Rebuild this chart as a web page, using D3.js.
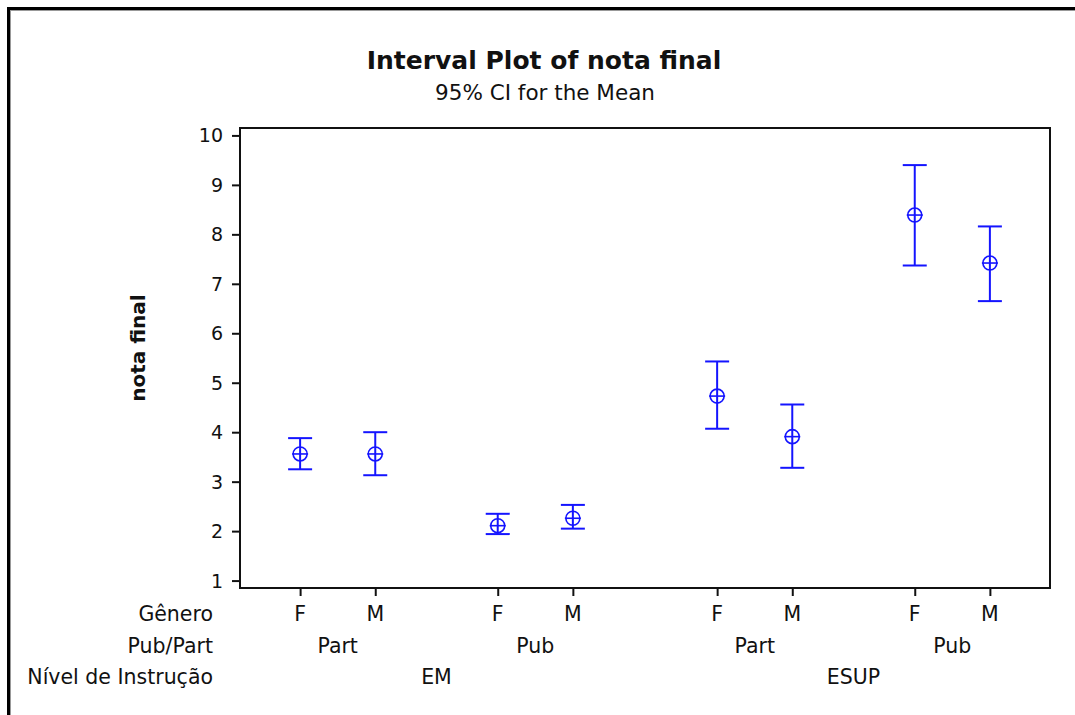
<!DOCTYPE html>
<html>
<head>
<meta charset="utf-8">
<script src="https://cdn.jsdelivr.net/npm/d3@7"></script>
<style>
  html, body { margin: 0; padding: 0; background: #fff; }
  svg { display: block; font-family: "DejaVu Sans", Verdana, sans-serif; }
</style>
</head>
<body>
<svg id="chart" width="1075" height="715"></svg>
<script>
// ---- data ----
const nivelLevels = ["EM", "ESUP"];
const pubPartLevels = ["Part", "Pub"];
const generoLevels = ["F", "M"];
const rowLabels = ["Gênero", "Pub/Part", "Nível de Instrução"];

// cells in order: EM-Part-F, EM-Part-M, EM-Pub-F, EM-Pub-M, ESUP-Part-F, ESUP-Part-M, ESUP-Pub-F, ESUP-Pub-M
const cellNivel   = ["EM", "EM", "EM", "EM", "ESUP", "ESUP", "ESUP", "ESUP"];
const cellPubPart = ["Part", "Part", "Pub", "Pub", "Part", "Part", "Pub", "Pub"];
const cellGenero  = ["F", "M", "F", "M", "F", "M", "F", "M"];
const means  = [3.56, 3.56, 2.11, 2.26, 4.73, 3.91, 8.39, 7.42];
const lowers = [3.25, 3.13, 1.94, 2.05, 4.07, 3.28, 7.37, 6.65];
const uppers = [3.88, 4.00, 2.35, 2.53, 5.43, 4.56, 9.40, 8.16];
const yTicks = [1, 2, 3, 4, 5, 6, 7, 8, 9, 10];

const titleText = "Interval Plot of nota final";
const subtitleText = "95% CI for the Mean";
const yLabelText = "nota final";

// ---- layout ----
const svg = d3.select("#chart");
const plot = { left: 240, right: 1050, top: 128, bottom: 588 };
const subGap = 0.63, groupGap = 0.29;
const blue = "#1414ff";
const ink = "#111";

const cells = means.map((m, i) => ({
  nivel: cellNivel[i], pub: cellPubPart[i], gen: cellGenero[i],
  mean: m, lo: lowers[i], hi: uppers[i]
}));
// position index with Minitab-like gaps between groups
cells.forEach((c, i) => {
  const g = nivelLevels.indexOf(c.nivel);
  const s = g * pubPartLevels.length + pubPartLevels.indexOf(c.pub);
  c.pos = i + s * subGap + g * groupGap;
});
const maxPos = d3.max(cells, c => c.pos);
const pad = 0.8;

const x = d3.scaleLinear().domain([-pad, maxPos + pad]).range([plot.left, plot.right]);
const y = d3.scaleLinear().domain([0.85, 10.15]).range([plot.bottom, plot.top]);

// outer frame (top and left edges)
svg.append("line").attr("x1", 9).attr("x2", 1075).attr("y1", 8.5).attr("y2", 8.5)
  .attr("stroke", "#000").attr("stroke-width", 3);
svg.append("line").attr("x1", 8.5).attr("x2", 8.5).attr("y1", 7).attr("y2", 715)
  .attr("stroke", "#000").attr("stroke-width", 3);
svg.append("line").attr("x1", 10).attr("x2", 1075).attr("y1", 10.5).attr("y2", 10.5)
  .attr("stroke", "#999").attr("stroke-width", 1);
svg.append("line").attr("x1", 10.5).attr("x2", 10.5).attr("y1", 10).attr("y2", 715)
  .attr("stroke", "#999").attr("stroke-width", 1);

// titles
svg.append("text").attr("x", 544).attr("y", 69).attr("text-anchor", "middle")
  .attr("font-size", 25).attr("font-weight", "bold").attr("fill", ink).text(titleText);
svg.append("text").attr("x", 545).attr("y", 100).attr("text-anchor", "middle")
  .attr("font-size", 21.5).attr("fill", ink).text(subtitleText);

// y axis
const yAxis = d3.axisLeft(y).tickValues(yTicks).tickSize(8).tickPadding(9).tickFormat(d3.format("d"));
const gy = svg.append("g").attr("transform", `translate(${plot.left},0)`).call(yAxis);
gy.select(".domain").remove();
gy.selectAll(".tick line").attr("stroke", ink).attr("stroke-width", 2);
gy.selectAll(".tick text").attr("font-size", 19).attr("fill", ink)
  .attr("font-family", "DejaVu Sans, sans-serif").attr("dy", "0.34em");

// x axis ticks
const xAxis = d3.axisBottom(x).tickValues(cells.map(c => c.pos)).tickSize(8).tickFormat("");
const gx = svg.append("g").attr("transform", `translate(0,${plot.bottom})`).call(xAxis);
gx.select(".domain").remove();
gx.selectAll(".tick line").attr("stroke", ink).attr("stroke-width", 2);

// plot frame
svg.append("rect").attr("x", plot.left).attr("y", plot.top)
  .attr("width", plot.right - plot.left).attr("height", plot.bottom - plot.top)
  .attr("fill", "none").attr("stroke", ink).attr("stroke-width", 2);

// y label
svg.append("text").attr("transform", `translate(145,348) rotate(-90)`)
  .attr("text-anchor", "middle").attr("font-size", 20).attr("font-weight", "bold")
  .attr("fill", ink).text(yLabelText);

// category label rows
const rowY = [621, 653, 684];
const labFont = 20.5;
svg.selectAll("text.rowlab").data(rowLabels).join("text").attr("class", "rowlab")
  .attr("x", 213).attr("y", (d, i) => rowY[i]).attr("text-anchor", "end")
  .attr("font-size", labFont).attr("fill", ink).text(d => d);

svg.selectAll("text.gen").data(cells).join("text").attr("class", "gen")
  .attr("x", d => x(d.pos)).attr("y", rowY[0]).attr("text-anchor", "middle")
  .attr("font-size", labFont).attr("fill", ink).text(d => d.gen);

const subGroups = d3.groups(cells, c => c.nivel + "|" + c.pub).map(([k, v]) => ({
  label: v[0].pub, cx: d3.mean(v, c => c.pos)
}));
svg.selectAll("text.pub").data(subGroups).join("text").attr("class", "pub")
  .attr("x", d => x(d.cx)).attr("y", rowY[1]).attr("text-anchor", "middle")
  .attr("font-size", labFont).attr("fill", ink).text(d => d.label);

const groups = d3.groups(cells, c => c.nivel).map(([k, v]) => ({
  label: k, cx: d3.mean(v, c => c.pos)
}));
svg.selectAll("text.niv").data(groups).join("text").attr("class", "niv")
  .attr("x", d => x(d.cx)).attr("y", rowY[2]).attr("text-anchor", "middle")
  .attr("font-size", labFont).attr("fill", ink).text(d => d.label);

// interval bars
const capHalf = 12, r = 7;
const marks = svg.append("g").attr("stroke", blue).attr("stroke-width", 2).attr("fill", "none");
const g = marks.selectAll("g").data(cells).join("g");
g.append("line").attr("x1", d => x(d.pos)).attr("x2", d => x(d.pos))
  .attr("y1", d => y(d.hi)).attr("y2", d => y(d.lo));
g.append("line").attr("x1", d => x(d.pos) - capHalf).attr("x2", d => x(d.pos) + capHalf)
  .attr("y1", d => y(d.hi)).attr("y2", d => y(d.hi));
g.append("line").attr("x1", d => x(d.pos) - capHalf).attr("x2", d => x(d.pos) + capHalf)
  .attr("y1", d => y(d.lo)).attr("y2", d => y(d.lo));
g.append("circle").attr("cx", d => x(d.pos)).attr("cy", d => y(d.mean)).attr("r", r)
  .attr("stroke-width", 1.6);
g.append("line").attr("x1", d => x(d.pos) - r - 1).attr("x2", d => x(d.pos) + r + 1)
  .attr("y1", d => y(d.mean)).attr("y2", d => y(d.mean)).attr("stroke-width", 1.6);
</script>
</body>
</html>
